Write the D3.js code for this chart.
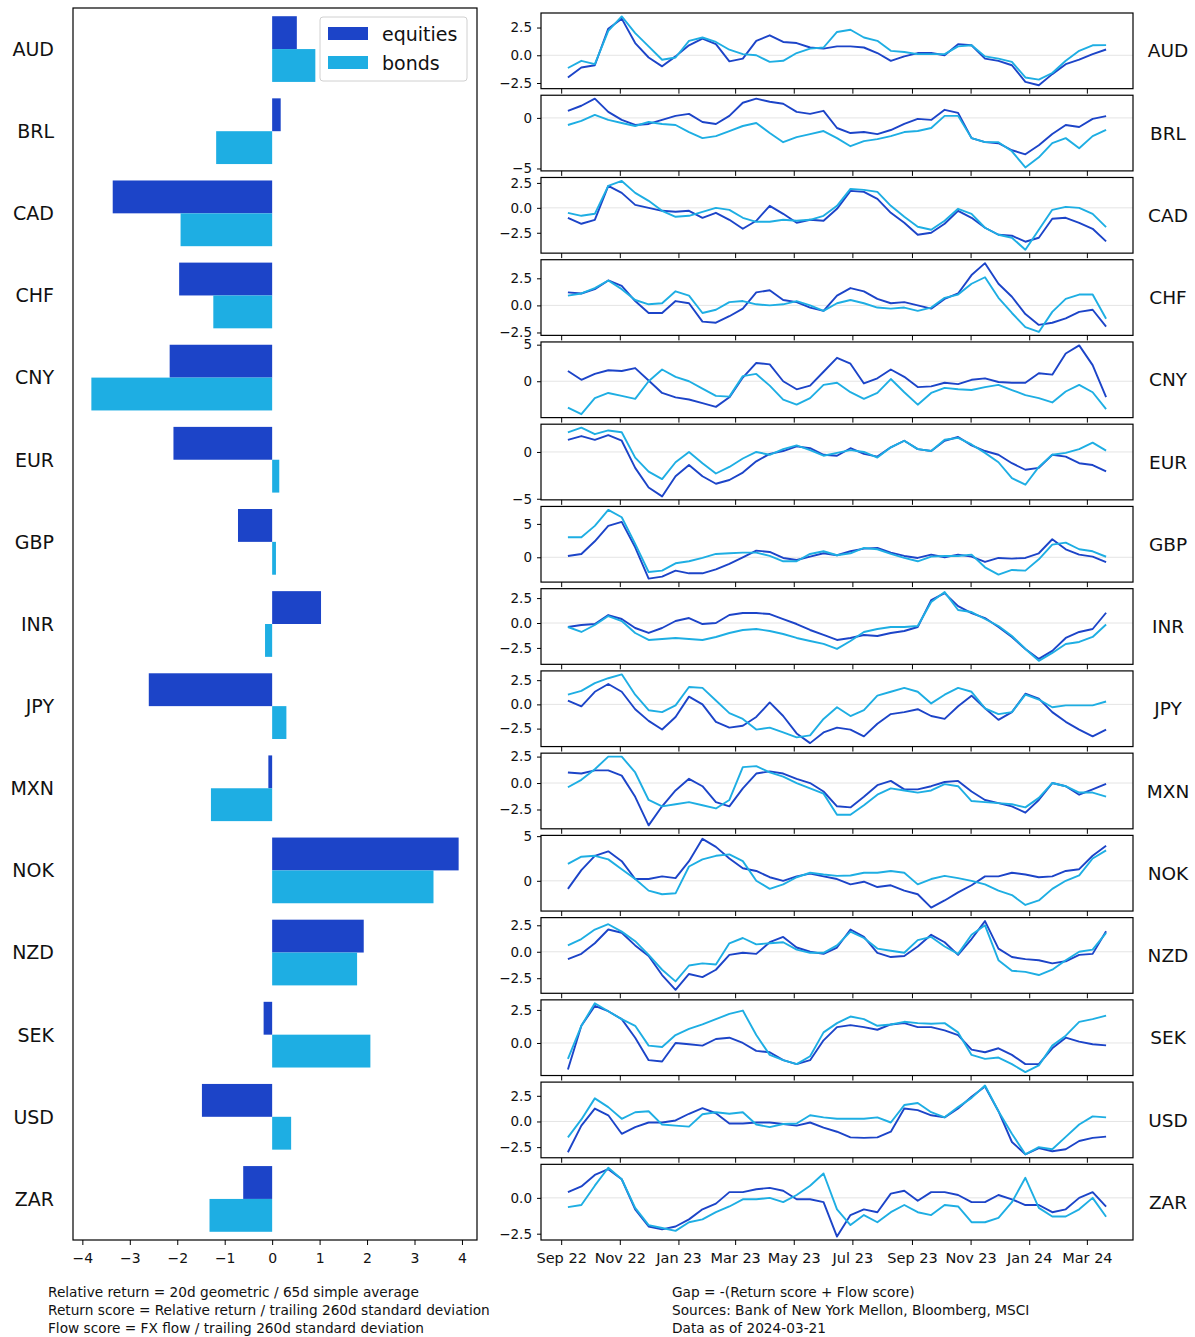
<!DOCTYPE html>
<html>
<head>
<meta charset="utf-8">
<script src="https://cdn.jsdelivr.net/npm/d3@7"></script>
<style>
  body { margin: 0; background: #fff; }
  text { font-family: "DejaVu Sans", sans-serif; fill: #111; }
</style>
</head>
<body>
<svg id="chart" width="1195" height="1337"></svg>
<script>
// currencies, top to bottom
var currencies = ['AUD','BRL','CAD','CHF','CNY','EUR','GBP','INR','JPY','MXN','NOK','NZD','SEK','USD','ZAR'];

// latest gap scores (left bars)
var equityGap = [0.52, 0.18, -3.36, -1.96, -2.16, -2.08, -0.72, 1.03, -2.60, -0.08, 3.93, 1.93, -0.18, -1.48, -0.61];
var bondGap   = [0.91, -1.18, -1.93, -1.24, -3.81, 0.15, 0.08, -0.15, 0.30, -1.29, 3.40, 1.79, 2.07, 0.40, -1.32];

// fortnightly history (right panels)
var dates = ['2022-09-08','2022-09-22','2022-10-06','2022-10-20','2022-11-03','2022-11-17','2022-12-01','2022-12-15','2022-12-29',
  '2023-01-12','2023-01-26','2023-02-09','2023-02-23','2023-03-09','2023-03-23','2023-04-06','2023-04-20','2023-05-04','2023-05-18',
  '2023-06-01','2023-06-15','2023-06-29','2023-07-13','2023-07-27','2023-08-10','2023-08-24','2023-09-07','2023-09-21','2023-10-05',
  '2023-10-19','2023-11-02','2023-11-16','2023-11-30','2023-12-14','2023-12-28','2024-01-11','2024-01-25','2024-02-08','2024-02-22',
  '2024-03-07','2024-03-21'];

var audEquities = [-2.0,-1.1,-0.9,2.4,3.3,1.1,-0.2,-1.0,-0.1,0.9,1.5,1.0,-0.55,-0.3,1.3,1.8,1.2,1.1,0.7,0.6,0.8,0.8,0.7,0.2,-0.5,-0.1,0.2,0.2,0.0,1.0,0.9,-0.3,-0.5,-0.9,-2.4,-2.7,-1.7,-0.8,-0.4,0.1,0.52];
var audBonds = [-1.15,-0.5,-0.8,2.2,3.5,2.0,0.8,-0.4,-0.2,1.3,1.6,1.2,0.5,0.1,0.0,-0.6,-0.5,0.2,0.6,0.7,2.1,2.3,1.6,1.3,0.4,0.3,0.1,0.1,0.1,0.8,0.9,-0.1,-0.3,-0.6,-2.0,-2.2,-1.6,-0.5,0.4,0.9,0.91];
var brlEquities = [0.7,1.2,1.9,0.6,-0.2,-0.7,-0.6,-0.2,0.2,0.4,-0.4,-0.6,0.2,1.5,1.9,1.6,1.4,0.6,0.4,0.7,-1.0,-1.5,-1.4,-1.6,-1.2,-0.6,-0.1,-0.2,0.8,0.5,-2.0,-2.4,-2.5,-3.2,-3.6,-2.7,-1.6,-0.7,-0.9,-0.1,0.18];
var brlBonds = [-0.7,-0.3,0.3,-0.2,-0.5,-0.8,-0.4,-0.6,-0.7,-1.4,-2.0,-1.8,-1.3,-0.8,-0.5,-1.5,-2.4,-1.9,-1.6,-1.3,-2.0,-2.8,-2.3,-2.1,-1.8,-1.4,-1.3,-1.0,0.2,0.2,-2.0,-2.4,-2.4,-3.3,-4.9,-3.9,-2.5,-2.0,-3.0,-1.8,-1.18];
var cadEquities = [-1.0,-1.6,-1.2,2.2,1.5,0.3,0.0,-0.3,-0.4,-0.3,-1.0,-0.5,-1.2,-2.1,-1.3,0.2,-0.6,-1.5,-1.2,-1.3,-0.1,1.7,1.6,0.9,-0.5,-1.5,-2.7,-2.5,-1.6,-0.3,-1.0,-2.0,-2.7,-2.8,-3.4,-3.0,-1.1,-1.0,-1.5,-2.1,-3.36];
var cadBonds = [-0.5,-0.8,-0.6,2.2,2.7,1.5,0.7,-0.3,-0.9,-0.8,-0.4,0.0,-0.2,-1.0,-1.4,-1.4,-1.2,-1.3,-1.2,-0.8,0.2,1.9,1.8,1.6,0.2,-0.9,-1.9,-2.2,-1.3,-0.1,-0.6,-2.0,-2.7,-3.0,-4.2,-2.2,-0.2,0.1,0.0,-0.6,-1.93];
var chfEquities = [1.2,1.1,1.5,2.3,1.8,0.4,-0.7,-0.7,0.4,0.2,-1.5,-1.6,-1.0,-0.3,1.2,1.4,0.5,0.3,-0.2,-0.5,0.9,1.6,1.3,0.6,0.2,0.3,0.0,-0.3,0.6,1.1,2.8,3.9,2.0,0.8,-0.8,-1.8,-1.6,-1.2,-0.6,-0.4,-1.96];
var chfBonds = [0.9,1.1,1.6,2.3,1.5,0.5,0.1,0.2,1.3,0.9,-0.7,-0.4,0.3,0.4,0.1,0.0,0.1,0.4,0.0,-0.5,0.2,0.5,0.2,-0.2,-0.3,-0.2,-0.5,-0.2,0.7,1.0,2.0,2.6,0.7,-0.7,-2.0,-2.45,-0.6,0.6,1.0,1.0,-1.24];
var cnyEquities = [1.4,0.2,1.0,1.5,1.4,1.8,0.1,-1.6,-2.2,-2.5,-3.0,-3.5,-2.2,0.5,2.5,2.3,0.0,-1.1,-0.6,1.3,3.2,2.4,-0.3,0.4,1.6,0.6,-0.8,-0.7,-0.2,-0.4,0.2,0.4,-0.1,-0.2,-0.2,1.1,0.9,3.8,4.9,2.2,-2.16];
var cnyBonds = [-3.6,-4.5,-2.3,-1.6,-2.0,-2.4,0.0,1.6,0.6,0.0,-1.0,-2.0,-2.1,0.7,1.0,-0.6,-2.5,-3.2,-2.3,-0.5,-0.2,-1.5,-2.4,-1.6,0.3,-1.5,-3.2,-1.6,-0.9,-1.1,-1.2,-0.8,-0.5,-1.2,-1.9,-2.3,-2.9,-1.4,-0.5,-1.5,-3.81];
var eurEquities = [1.3,1.7,1.3,1.8,1.2,-1.7,-3.8,-4.75,-2.6,-1.4,-2.6,-3.4,-3.0,-2.2,-1.0,-0.2,0.1,0.6,0.4,-0.3,-0.4,0.4,-0.2,-0.5,0.5,1.2,0.3,0.1,1.2,1.6,0.7,0.1,-0.3,-1.2,-1.9,-1.7,-0.3,-0.5,-1.2,-1.4,-2.08];
var eurBonds = [2.1,2.6,1.9,2.3,2.1,-0.6,-2.1,-2.9,-1.1,0.0,-1.2,-2.3,-1.6,-0.7,0.0,-0.3,0.3,0.7,0.2,-0.4,-0.1,0.2,0.0,-0.6,0.5,1.2,0.3,0.1,1.3,1.5,0.8,-0.1,-1.1,-2.8,-3.5,-1.6,-0.3,-0.1,0.3,1.0,0.15];
var gbpEquities = [0.2,0.5,2.4,4.7,5.3,1.5,-3.2,-2.9,-2.0,-2.4,-2.4,-1.8,-1.0,0.0,1.0,0.8,-0.1,-0.4,0.1,0.6,0.3,0.9,1.3,1.4,0.7,0.2,-0.1,0.4,0.0,0.4,0.1,-0.7,-0.1,-0.2,-0.1,0.6,2.7,1.2,0.4,0.1,-0.72];
var gbpBonds = [3.0,3.0,4.7,7.1,6.0,2.0,-2.2,-2.0,-0.9,-0.6,-0.1,0.5,0.6,0.7,0.7,0.2,-0.6,-0.6,0.5,0.9,0.3,0.6,1.4,1.2,0.5,-0.1,-0.6,0.1,0.2,0.2,0.4,-1.5,-2.6,-1.9,-2.0,-0.3,1.9,2.2,1.2,0.9,0.08];
var inrEquities = [-0.4,-0.2,-0.1,0.8,0.4,-0.5,-1.0,-0.5,0.2,0.5,-0.1,0.0,0.8,1.0,1.0,0.9,0.4,-0.1,-0.7,-1.2,-1.7,-1.5,-1.2,-1.3,-1.0,-0.8,-0.4,2.3,3.0,1.7,1.0,0.5,-0.4,-1.4,-2.6,-3.6,-2.8,-1.5,-0.9,-0.6,1.03];
var inrBonds = [-0.4,-0.9,-0.2,0.7,0.2,-1.0,-1.7,-1.6,-1.5,-1.6,-1.7,-1.4,-1.0,-0.7,-0.6,-0.8,-1.1,-1.5,-1.8,-2.1,-2.6,-1.8,-0.9,-0.6,-0.4,-0.4,-0.3,2.1,3.1,1.3,1.1,0.4,-0.3,-1.3,-2.6,-3.8,-3.0,-2.1,-1.9,-1.4,-0.15];
var jpyEquities = [0.4,-0.2,1.3,2.1,1.3,-0.5,-1.7,-2.6,-1.3,0.8,0.0,-1.8,-2.4,-2.2,-1.3,0.2,-1.2,-3.0,-4.0,-2.9,-2.4,-2.6,-3.3,-2.0,-1.0,-0.8,-0.5,-1.2,-1.5,-0.2,0.9,-0.4,-1.6,-0.8,1.1,0.6,-0.8,-1.8,-2.6,-3.3,-2.60];
var jpyBonds = [1.0,1.4,2.2,2.7,3.1,1.0,-0.6,-0.8,-0.1,1.8,1.7,0.4,-0.9,-1.5,-2.6,-2.4,-2.9,-3.4,-3.2,-1.5,-0.3,-1.2,-0.6,0.9,1.3,1.7,1.3,0.1,1.0,1.7,1.3,-0.4,-1.0,-0.8,1.0,0.5,-0.3,-0.1,-0.1,-0.1,0.30];
var mxnEquities = [1.0,0.9,1.2,1.2,0.7,-1.3,-4.0,-2.2,-0.7,0.4,-0.3,-1.8,-2.2,-0.5,0.9,1.1,0.9,0.4,0.0,-0.8,-2.2,-2.3,-1.3,-0.2,0.2,-0.6,-0.6,-0.3,0.1,0.2,-0.8,-1.6,-1.9,-2.2,-2.8,-1.6,0.0,-0.3,-1.1,-0.6,-0.08];
var mxnBonds = [-0.4,0.3,1.3,2.5,2.5,1.0,-1.6,-2.2,-2.0,-1.8,-2.1,-2.4,-1.6,1.5,1.6,1.0,0.6,0.0,-0.5,-1.0,-3.0,-3.0,-2.1,-1.1,-0.5,-0.7,-0.9,-0.7,-0.1,-0.3,-1.7,-1.8,-1.9,-2.0,-2.3,-1.4,0.0,-0.3,-0.9,-0.9,-1.29];
var nokEquities = [-0.9,1.2,2.8,3.3,2.2,0.2,0.2,0.5,0.3,2.2,4.7,3.8,2.5,1.4,1.1,0.4,0.0,0.5,0.8,0.5,0.2,-0.4,-0.1,-0.7,-0.5,-1.1,-1.5,-3.0,-2.2,-1.3,-0.5,0.5,0.5,0.9,0.7,0.4,0.5,1.1,1.3,2.8,3.93];
var nokBonds = [1.9,2.7,2.8,2.4,1.3,0.2,-1.1,-1.5,-1.4,1.6,2.4,2.8,2.96,2.2,0.0,-0.9,-0.4,0.4,0.9,0.7,0.55,0.6,0.9,0.9,1.1,0.9,-0.4,0.2,0.55,0.3,0.0,-0.4,-1.1,-1.6,-2.7,-2.2,-0.9,0.0,0.6,2.5,3.40];
var nzdEquities = [-0.7,-0.2,0.8,2.1,1.8,0.6,-0.4,-2.2,-3.6,-2.1,-2.4,-1.7,-0.3,-0.1,-0.2,0.9,1.4,0.4,0.0,-0.2,0.4,2.1,1.4,-0.1,-0.5,-0.4,0.5,1.6,0.9,-0.3,1.2,2.9,0.3,-0.5,-0.7,-0.8,-1.1,-0.9,-0.3,-0.2,1.93];
var nzdBonds = [0.6,1.2,2.1,2.6,1.9,1.0,-0.3,-1.7,-2.8,-1.3,-1.1,-1.2,0.8,1.3,0.7,0.8,0.9,0.2,-0.1,-0.1,0.6,1.9,1.3,0.3,0.1,-0.1,1.1,1.4,0.5,-0.2,1.6,2.5,-0.8,-1.8,-1.9,-2.2,-1.7,-0.8,0.0,0.2,1.79];
var sekEquities = [-2.0,1.3,2.8,2.4,1.8,0.4,-1.3,-1.4,0.0,-0.1,-0.2,0.3,0.4,0.0,-0.6,-0.7,-1.3,-1.6,-1.3,0.2,1.2,1.35,1.2,1.0,1.4,1.5,1.2,1.2,0.95,0.6,-0.5,-0.7,-0.4,-0.9,-1.6,-1.6,-0.4,0.4,0.1,-0.1,-0.18];
var sekBonds = [-1.2,1.3,3.0,2.4,1.8,1.3,-0.2,-0.3,0.6,1.06,1.4,1.8,2.2,2.45,0.6,-0.9,-1.3,-1.6,-1.0,0.8,1.5,2.0,1.8,1.3,1.4,1.6,1.5,1.45,1.5,0.8,-0.9,-1.2,-1.1,-1.6,-2.2,-1.7,-0.2,0.55,1.6,1.8,2.07];
var usdEquities = [-3.0,-0.4,1.26,0.6,-1.2,-0.56,-0.1,-0.1,0.1,0.75,1.3,0.8,-0.2,-0.2,-0.1,-0.1,-0.25,-0.4,-0.1,-0.6,-1.0,-1.55,-1.6,-1.55,-1.0,1.26,1.1,0.6,0.4,1.26,2.4,3.4,1.0,-2.0,-3.2,-2.6,-2.9,-2.7,-1.9,-1.6,-1.48];
var usdBonds = [-1.55,0.2,2.25,1.4,0.26,0.9,1.0,-0.3,-0.4,-0.5,0.7,0.9,0.75,0.9,-0.3,-0.55,-0.25,-0.2,0.6,0.4,0.26,0.26,0.26,0.4,-0.1,1.6,1.8,0.9,0.4,1.4,2.3,3.5,1.0,-1.2,-3.2,-2.5,-2.7,-1.5,-0.3,0.5,0.40];
var zarEquities = [0.4,0.8,1.6,2.0,1.3,-0.8,-2.0,-2.2,-2.0,-1.5,-0.8,-0.4,0.4,0.4,0.6,0.7,0.5,-0.1,-0.1,-0.3,-2.7,-1.2,-0.8,-1.0,0.3,0.5,-0.2,0.4,0.4,0.2,-0.3,-0.3,0.2,-0.1,-0.5,-0.5,-1.0,-0.8,0.0,0.4,-0.61];
var zarBonds = [-0.65,-0.5,0.85,2.1,1.3,-0.7,-1.9,-2.1,-2.3,-1.7,-1.5,-1.0,-0.6,-0.1,-0.1,0.0,-0.3,0.2,0.85,1.7,-0.8,-1.9,-1.2,-1.7,-1.0,-0.5,-1.0,-1.2,-0.5,-0.6,-1.7,-1.7,-1.4,-0.3,1.4,-0.7,-1.3,-1.3,-0.8,0.0,-1.32];

// y tick values shown on each small panel, in currency order
var panelTicks = [[-2.5,0,2.5],[-5,0],[-2.5,0,2.5],[-2.5,0,2.5],[0,5],[-5,0],[0,5],[-2.5,0,2.5],
  [-2.5,0,2.5],[-2.5,0,2.5],[0,5],[-2.5,0,2.5],[0,2.5],[-2.5,0,2.5],[-2.5,0]];
var barTicks = [-4,-3,-2,-1,0,1,2,3,4];
var dateTicks = ['2022-09-01','2022-11-01','2023-01-01','2023-03-01','2023-05-01','2023-07-01','2023-09-01','2023-11-01','2024-01-01','2024-03-01'];

var leftNotes = ['Relative return = 20d geometric / 65d simple average',
  'Return score = Relative return / trailing 260d standard deviation',
  'Flow score = FX flow / trailing 260d standard deviation'];
var rightNotes = ['Gap = -(Return score + Flow score)',
  'Sources:  Bank of New York Mellon, Bloomberg, MSCI',
  'Data as of 2024-03-21'];

var gapHistory = {
  AUD: [audEquities, audBonds], BRL: [brlEquities, brlBonds], CAD: [cadEquities, cadBonds],
  CHF: [chfEquities, chfBonds], CNY: [cnyEquities, cnyBonds], EUR: [eurEquities, eurBonds],
  GBP: [gbpEquities, gbpBonds], INR: [inrEquities, inrBonds], JPY: [jpyEquities, jpyBonds],
  MXN: [mxnEquities, mxnBonds], NOK: [nokEquities, nokBonds], NZD: [nzdEquities, nzdBonds],
  SEK: [sekEquities, sekBonds], USD: [usdEquities, usdBonds], ZAR: [zarEquities, zarBonds]
};

var eqColor = '#1c44c8';
var bdColor = '#1eaee3';

var svg = d3.select('#chart');
var parse = d3.timeParse('%Y-%m-%d');
var when = dates.map(parse);

// matplotlib-like 5% margins
function padded(lo, hi) {
  var m = (hi - lo) * 0.05;
  return [lo - m, hi + m];
}
function styleAxis(g, size) {
  g.attr('font-family', null).attr('font-size', null);
  g.select('.domain').remove();
  g.selectAll('.tick line').attr('stroke', '#000').attr('stroke-width', 1);
  g.selectAll('.tick text').style('font-size', size + 'px').attr('fill', '#111');
}

// ---------- left: bars ----------
var box = {x0: 73, x1: 477, y0: 8, y1: 1240};
var allBars = equityGap.concat(bondGap);
var x = d3.scaleLinear()
  .domain(padded(d3.min(allBars.concat([0])), d3.max(allBars.concat([0]))))
  .range([box.x0, box.x1]);
var band = d3.scaleBand().domain(currencies).range([box.y0, box.y1]);
var barH = band.bandwidth() * 0.4;

var left = svg.append('g');
left.selectAll('rect.eq')
  .data(currencies)
  .enter().append('rect')
  .attr('class', 'eq')
  .attr('x', function(d, i) { return x(Math.min(0, equityGap[i])); })
  .attr('width', function(d, i) { return Math.abs(x(equityGap[i]) - x(0)); })
  .attr('y', function(d) { return band(d) + band.bandwidth() * 0.1; })
  .attr('height', barH)
  .attr('fill', eqColor);
left.selectAll('rect.bd')
  .data(currencies)
  .enter().append('rect')
  .attr('class', 'bd')
  .attr('x', function(d, i) { return x(Math.min(0, bondGap[i])); })
  .attr('width', function(d, i) { return Math.abs(x(bondGap[i]) - x(0)); })
  .attr('y', function(d) { return band(d) + band.bandwidth() * 0.5; })
  .attr('height', barH)
  .attr('fill', bdColor);

left.append('rect')
  .attr('x', box.x0).attr('y', box.y0)
  .attr('width', box.x1 - box.x0).attr('height', box.y1 - box.y0)
  .attr('fill', 'none').attr('stroke', '#000').attr('stroke-width', 1.2);

left.append('g')
  .attr('transform', 'translate(0,' + box.y1 + ')')
  .call(d3.axisBottom(x).tickValues(barTicks).tickSize(5).tickPadding(8).tickFormat(d3.format('d')))
  .call(styleAxis, 14);

left.selectAll('text.cur')
  .data(currencies)
  .enter().append('text')
  .attr('class', 'cur')
  .attr('x', 54)
  .attr('y', function(d) { return band(d) + band.bandwidth() / 2; })
  .attr('dy', '0.36em')
  .attr('text-anchor', 'end')
  .style('font-size', '19px')
  .text(function(d) { return d; });

// legend
var legend = left.append('g').attr('transform', 'translate(320,17)');
legend.append('rect')
  .attr('width', 147).attr('height', 64).attr('rx', 3)
  .attr('fill', '#fff').attr('fill-opacity', 0.8)
  .attr('stroke', '#d0d0d0');
[['equities', eqColor], ['bonds', bdColor]].forEach(function(e, i) {
  legend.append('rect')
    .attr('x', 8).attr('y', 10 + i * 29)
    .attr('width', 40).attr('height', 13)
    .attr('fill', e[1]);
  legend.append('text')
    .attr('x', 62).attr('y', 17 + i * 29)
    .attr('dy', '0.36em')
    .style('font-size', '19px')
    .text(e[0]);
});

// ---------- right: small multiples ----------
var rx0 = 541, rx1 = 1133;
var xt = d3.scaleTime()
  .domain(padded(+when[0], +when[when.length - 1]).map(function(v) { return new Date(v); }))
  .range([rx0, rx1]);
var rows = d3.scaleBand().domain(currencies).range([13, 1240]).paddingInner(0.08);
var tickDates = dateTicks.map(parse);

currencies.forEach(function(cur, i) {
  var top = rows(cur), h = rows.bandwidth();
  var pair = gapHistory[cur];
  var lo = d3.min(pair[0].concat(pair[1])), hi = d3.max(pair[0].concat(pair[1]));
  var dom = padded(lo, hi);
  var y = d3.scaleLinear().domain(dom).range([top + h, top]);
  var g = svg.append('g');

  g.append('line')
    .attr('x1', rx0).attr('x2', rx1)
    .attr('y1', y(0)).attr('y2', y(0))
    .attr('stroke', '#dddddd').attr('stroke-width', 0.8);

  var line = d3.line()
    .x(function(d, k) { return xt(when[k]); })
    .y(function(d) { return y(d); });
  g.append('path').datum(pair[0])
    .attr('d', line).attr('fill', 'none')
    .attr('stroke', eqColor).attr('stroke-width', 1.9).attr('stroke-linejoin', 'round');
  g.append('path').datum(pair[1])
    .attr('d', line).attr('fill', 'none')
    .attr('stroke', bdColor).attr('stroke-width', 1.9).attr('stroke-linejoin', 'round');

  g.append('rect')
    .attr('x', rx0).attr('y', top).attr('width', rx1 - rx0).attr('height', h)
    .attr('fill', 'none').attr('stroke', '#000').attr('stroke-width', 1.2);

  var ticks = panelTicks[i].filter(function(t) { return t >= dom[0] && t <= dom[1]; });
  var fmt = panelTicks[i].some(function(t) { return t % 1 !== 0; }) ? d3.format('.1f') : d3.format('d');
  g.append('g')
    .attr('transform', 'translate(' + rx0 + ',0)')
    .call(d3.axisLeft(y).tickValues(ticks).tickSize(4).tickPadding(5).tickFormat(fmt))
    .call(styleAxis, 13.5);

  var last = i === currencies.length - 1;
  g.append('g')
    .attr('transform', 'translate(0,' + (top + h) + ')')
    .call(d3.axisBottom(xt).tickValues(tickDates).tickSize(5).tickPadding(8)
      .tickFormat(last ? d3.timeFormat('%b %y') : function() { return ''; }))
    .call(styleAxis, 14.5);

  g.append('text')
    .attr('x', 1168)
    .attr('y', top + h / 2)
    .attr('dy', '0.36em')
    .attr('text-anchor', 'middle')
    .style('font-size', '18.5px')
    .text(cur);
});

// ---------- footnotes ----------
svg.selectAll('text.noteL')
  .data(leftNotes)
  .enter().append('text')
  .attr('class', 'noteL')
  .attr('x', 48)
  .attr('y', function(d, i) { return 1297 + i * 18; })
  .style('font-size', '13.7px')
  .text(function(d) { return d; });
svg.selectAll('text.noteR')
  .data(rightNotes)
  .enter().append('text')
  .attr('class', 'noteR')
  .attr('x', 672)
  .attr('y', function(d, i) { return 1297 + i * 18; })
  .style('font-size', '13.7px')
  .text(function(d) { return d; });
</script>
</body>
</html>
